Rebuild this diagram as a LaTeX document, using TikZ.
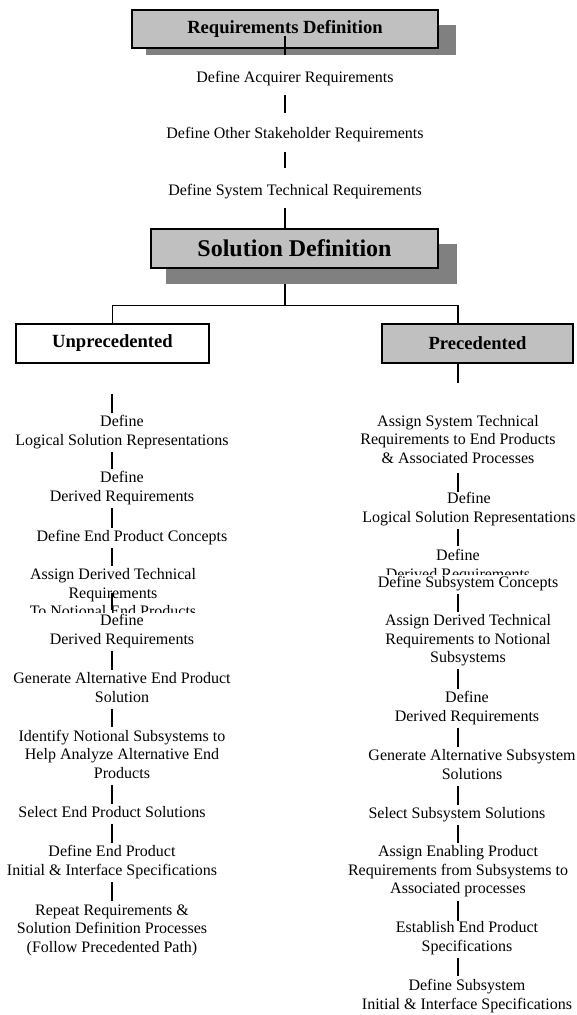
\documentclass[tikz,border=0pt]{standalone}
\usepackage{fontspec}
\setmainfont{Liberation Serif}
\definecolor{boxgray}{HTML}{C0C0C0}
\definecolor{shadowgray}{HTML}{808080}
\newcommand\ms{\strut}
\begin{document}
\begin{tikzpicture}[x=1pt,y=-1pt,
  txt/.style={font=\fontsize{16}{18.6}\selectfont, align=center, inner sep=0pt},
  conn/.style={draw=black, line width=1.3pt, shorten <=0.8pt, shorten >=0.8pt},
  branch/.style={draw=black, line width=1.3pt},
  shadowbox/.style={fill=shadowgray, inner sep=0pt, draw=none},
  headbox/.style={draw=black, line width=1.8pt, inner sep=0pt},
  hdr/.style={font=\bfseries\fontsize{18.6}{22}\selectfont},
  bighdr/.style={font=\bfseries\fontsize{24}{28}\selectfont}]
\useasboundingbox (0,0) rectangle (577,1015);
\coordinate (Lt) at (285,0);
\coordinate (L) at (112,0);
\coordinate (R) at (458,0);

% --- top boxes ---
\node[shadowbox, minimum width=310pt, minimum height=30pt] (reqsh) at (301,40) {};
\node[headbox, fill=boxgray, minimum width=306pt, minimum height=38pt, hdr] (req) at (285,29) {Requirements Definition};

\node[txt] (t1) at (295,78.3) {\ms Define Acquirer Requirements};
\node[txt] (t2) at (295,134.3) {\ms Define Other Stakeholder Requirements};
\node[txt] (t3) at (295,191.3) {\ms Define System Technical Requirements};

\node[shadowbox, minimum width=291pt, minimum height=40pt] (solsh) at (311.5,264) {};
\node[headbox, fill=boxgray, minimum width=287pt, minimum height=39pt, bighdr] (sol) at (294.5,248.5) {Solution Definition};

\draw[conn, shorten <=-13pt, shorten >=14pt] (req.south -| Lt) -- (t1.north -| Lt);
\draw[conn, shorten <=7.4pt, shorten >=12pt] (t1.south -| Lt) -- (t2.north -| Lt);
\draw[conn, shorten <=8.4pt, shorten >=14pt] (t2.south -| Lt) -- (t3.north -| Lt);
\draw[conn, shorten <=7.4pt, shorten >=0pt] (t3.south -| Lt) -- (sol.north -| Lt);

% --- branch ---
\node[headbox, fill=white, minimum width=193pt, minimum height=39pt, hdr] (unp) at (112.5,343.5) {Unprecedented};
\node[headbox, fill=boxgray, minimum width=191pt, minimum height=39pt, hdr] (prec) at (477.5,343.5) {Precedented};
\coordinate (br) at (285,305.5);
\draw[branch] (solsh.south -| Lt) -- (br);
\draw[branch] (br) -| (unp.north);
\draw[branch] (br) -| (prec.north -| R);

% --- left column ---
\node[txt] (l1) at (122,432) {\ms Define\\\ms Logical Solution Representations};
\node[txt] (l2) at (122,488.5) {\ms Define\\\ms Derived Requirements};
\node[txt] (l3) at (132,538) {\ms Define End Product Concepts};
\begin{scope}
  \clip (0,560) rectangle (280,612);
  \node[txt] (l4) at (113,594.5) {\ms Assign Derived Technical\\\ms Requirements\\\ms To Notional End Products};
\end{scope}
\node[txt] (l5) at (122,631.5) {\ms Define\\\ms Derived Requirements};
\node[txt] (l6) at (122,689.5) {\ms Generate Alternative End Product\\\ms Solution};
\node[txt] (l7) at (122,756) {\ms Identify Notional Subsystems to\\\ms Help Analyze Alternative End\\\ms Products};
\node[txt] (l8) at (112,814) {\ms Select End Product Solutions};
\node[txt] (l9) at (112,862.5) {\ms Define End Product\\\ms Initial \& Interface Specifications};
\node[txt] (l10) at (112,930) {\ms Repeat Requirements \&\\\ms Solution Definition Processes\\\ms (Follow Precedented Path)};

\draw[conn, shorten <=30pt, shorten >=0.5pt] (unp.south -| L) -- (l1.north -| L);
\draw[conn] (l1.south -| L) -- (l2.north -| L);
\draw[conn] (l2.south -| L) -- (l3.north -| L);
\draw[conn] (l3.south -| L) -- (l4.north -| L);
\draw[conn, shorten <=-1.5pt, shorten >=2.7pt] (l4.center -| L) -- (l5.north -| L);
\draw[conn] (l5.south -| L) -- (l6.north -| L);
\draw[conn] (l6.south -| L) -- (l7.north -| L);
\draw[conn] (l7.south -| L) -- (l8.north -| L);
\draw[conn] (l8.south -| L) -- (l9.north -| L);
\draw[conn] (l9.south -| L) -- (l10.north -| L);

% --- right column ---
\node[txt] (r1) at (458,441) {\ms Assign System Technical\\\ms Requirements to End Products\\\ms \& Associated Processes};
\node[txt] (r2) at (469,509.5) {\ms Define\\\ms Logical Solution Representations};
\begin{scope}
  \clip (340,540) rectangle (577,574);
  \node[txt] (r3) at (458,566) {\ms Define\\\ms Derived Requirements};
\end{scope}
\node[txt] (r4) at (468,584) {\ms Define Subsystem Concepts};
\node[txt] (r5) at (468,640.5) {\ms Assign Derived Technical\\\ms Requirements to Notional\\\ms Subsystems};
\node[txt] (r6) at (467,708.5) {\ms Define\\\ms Derived Requirements};
\node[txt] (r7) at (472,766.5) {\ms Generate Alternative Subsystem\\\ms Solutions};
\node[txt] (r8) at (457,815) {\ms Select Subsystem Solutions};
\node[txt] (r9) at (458,871.5) {\ms Assign Enabling Product\\\ms Requirements from Subsystems to\\\ms Associated processes};
\node[txt] (r10) at (467,938.5) {\ms Establish End Product\\\ms Specifications};
\node[txt] (r11) at (467,996) {\ms Define Subsystem\\\ms Initial \& Interface Specifications};

\draw[conn, shorten <=0pt, shorten >=30pt] (prec.south -| R) -- (r1.north -| R);
\draw[conn, shorten <=4pt, shorten >=-1pt] (r1.south -| R) -- (r2.north -| R);
\draw[conn] (r2.south -| R) -- (r3.north -| R);
\draw[conn] (r4.south -| R) -- (r5.north -| R);
\draw[conn] (r5.south -| R) -- (r6.north -| R);
\draw[conn] (r6.south -| R) -- (r7.north -| R);
\draw[conn] (r7.south -| R) -- (r8.north -| R);
\draw[conn] (r8.south -| R) -- (r9.north -| R);
\draw[conn, shorten <=1.6pt, shorten >=-1pt] (r9.south -| R) -- (r10.north -| R);
\draw[conn] (r10.south -| R) -- (r11.north -| R);
\end{tikzpicture}
\end{document}
